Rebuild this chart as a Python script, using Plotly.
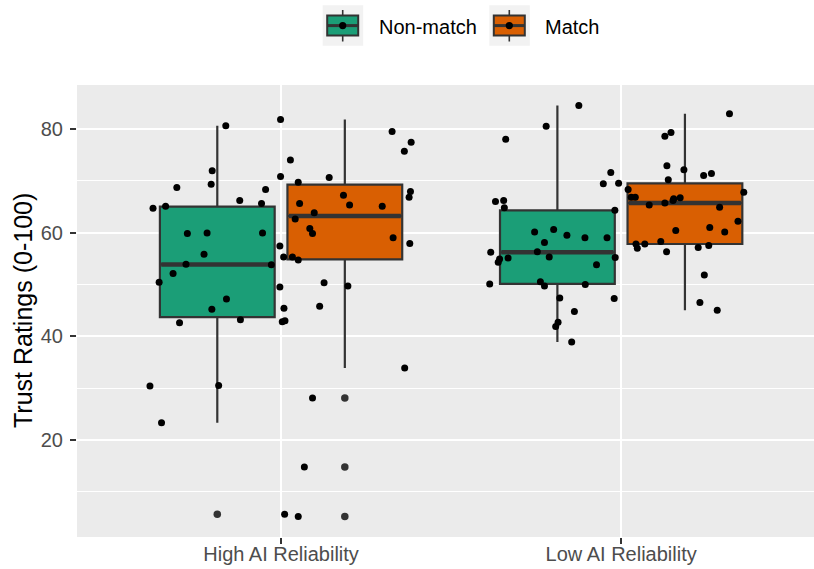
import numpy as np
import plotly.graph_objects as go

# ---- data -------------------------------------------------------------
categories = ["High AI Reliability", "Low AI Reliability"]
groups = ["Non-match", "Match"]
group_colors = {"Non-match": "#1B9E77", "Match": "#D95F02"}

# trust ratings (0-100) per participant, with the horizontal jitter used for display
high_nonmatch = [80.6, 71.9, 69.3, 68.7, 68.3, 66.2, 65.6, 64.7, 65.1, 59.8,
                 59.9, 59.9, 55.8, 53.9, 53.8, 52.1, 50.4, 47.2, 45.2, 43.2,
                 42.6, 30.4, 30.5, 23.3, 5.7, 57.4, 49.5, 45.4, 42.8, 43.0]
high_nonmatch_jit = [0.025, -0.015, -0.018, -0.119, 0.142, 0.066, 0.130, -0.189, -0.152, -0.088,
                     -0.030, 0.133, -0.039, -0.092, 0.159, -0.130, -0.171, 0.027, -0.016, 0.068,
                     -0.111, -0.198, 0.004, -0.164, 0.198, 0.184, 0.184, 0.196, 0.191, 0.199]

high_match = [81.8, 79.5, 77.4, 75.7, 74.0, 70.8, 70.6, 69.7, 67.9, 66.8,
              67.2, 65.3, 65.1, 65.6, 63.8, 62.6, 60.8, 59.8, 59.0, 57.9,
              55.3, 55.3, 54.7, 50.3, 49.7, 45.8, 33.9, 28.1, 14.8, 5.25]
high_match_jit = [-0.189, 0.139, 0.195, 0.175, -0.160, -0.189, -0.046, -0.137, 0.193, 0.189,
                  -0.004, 0.014, 0.110, -0.133, -0.090, -0.146, -0.103, -0.095, 0.142, 0.191,
                  -0.180, -0.154, -0.137, -0.061, 0.009, -0.074, 0.176, -0.095, -0.119, -0.137]

low_nonmatch = [84.5, 80.5, 78.0, 71.6, 69.4, 66.0, 66.2, 64.8, 64.3, 60.1,
                60.6, 59.5, 59.0, 59.0, 58.1, 56.2, 56.3, 55.1, 54.9, 54.3,
                55.3, 55.2, 53.8, 50.1, 50.5, 49.7, 50.0, 47.4, 47.3, 44.8,
                42.7, 41.9, 38.9]
low_nonmatch_jit = [0.063, -0.033, -0.152, 0.157, 0.135, -0.182, -0.158, -0.156, 0.169, -0.067,
                    -0.011, 0.028, 0.081, 0.146, -0.038, -0.196, -0.059, -0.145, -0.170, -0.174,
                    -0.024, 0.170, 0.115, -0.199, -0.050, -0.038, 0.082, 0.007, 0.167, 0.050,
                    0.002, -0.005, 0.042]

low_match = [82.9, 79.3, 78.6, 72.9, 72.1, 71.4, 71.0, 70.2, 69.5, 68.3,
             67.8, 66.8, 66.8, 66.2, 66.5, 66.7, 65.7, 65.3, 64.9, 62.2,
             61.0, 60.1, 60.4, 58.3, 57.8, 57.0, 57.8, 56.3, 57.1, 57.5,
             51.8, 46.5, 45.0]
low_match_jit = [0.131, -0.041, -0.059, -0.053, -0.003, 0.078, 0.055, -0.049, -0.195, -0.167,
                 0.173, -0.158, -0.146, -0.035, -0.033, -0.014, -0.059, -0.105, 0.102, 0.156,
                 0.073, 0.117, -0.027, -0.071, -0.144, -0.140, -0.118, -0.054, 0.039, 0.070,
                 0.057, 0.044, 0.095]

series = [
    (0, "Non-match", high_nonmatch, high_nonmatch_jit),
    (0, "Match", high_match, high_match_jit),
    (1, "Non-match", low_nonmatch, low_nonmatch_jit),
    (1, "Match", low_match, low_match_jit),
]

# ---- layout constants -------------------------------------------------
W, H = 814, 569
ML, MR, MT, MB = 77, 0, 85, 32
DODGE = 0.1875           # half of the dodge width (0.75 / 4)
BOX_W = 0.3375           # box width after dodge padding
FONT = "Liberation Sans, Arial, sans-serif"
LINE = "#333333"

fig = go.Figure()

boxes, medians, outliers, jitter = [], [], [], []
for cat_idx, grp, vals, jit in series:
    v = np.asarray(vals, dtype=float)
    pos = cat_idx + 1 + (-DODGE if grp == "Non-match" else DODGE)
    q1, med, q3 = np.percentile(v, [25, 50, 75])
    iqr = q3 - q1
    inside = v[(v >= q1 - 1.5 * iqr) & (v <= q3 + 1.5 * iqr)]
    outs = v[(v < q1 - 1.5 * iqr) | (v > q3 + 1.5 * iqr)]
    boxes.append(go.Box(
        x=[pos], q1=[q1], median=[med], q3=[q3],
        lowerfence=[inside.min()], upperfence=[inside.max()],
        width=BOX_W, fillcolor=group_colors[grp],
        line=dict(color=LINE, width=2.2), whiskerwidth=0,
        boxpoints=False, showlegend=False, hoverinfo="skip",
    ))
    medians.append(go.Scatter(
        x=[pos - BOX_W / 2 + 0.004, pos + BOX_W / 2 - 0.004], y=[med, med],
        mode="lines", line=dict(color=LINE, width=4.6),
        showlegend=False, hoverinfo="skip",
    ))
    if len(outs):
        outliers.append(go.Scatter(
            x=[pos] * len(outs), y=outs, mode="markers",
            marker=dict(color="#333333", size=7.5),
            showlegend=False, hoverinfo="skip",
        ))
    jitter.append(go.Scatter(
        x=pos + np.asarray(jit), y=v, mode="markers",
        marker=dict(color="black", size=7),
        showlegend=False, hoverinfo="skip",
    ))

for tr in boxes + medians + outliers + jitter:
    fig.add_trace(tr)

# ---- legend (ggplot-style keys) ----------------------------------------
pw, ph = W - ML - MR, H - MT - MB


def px(xp):
    return (xp - ML) / pw


def py(yp):
    return (H - MB - yp) / ph


shapes, annotations = [], []
legend_items = [("Non-match", 322.7, 377.0), ("Match", 489.3, 543.0)]
for grp, kx, tx in legend_items:
    cx = kx + 20
    shapes.append(dict(type="rect", xref="paper", yref="paper",
                       x0=px(kx), x1=px(kx + 40.5), y0=py(45.7), y1=py(5.2),
                       fillcolor="#F2F2F2", line=dict(width=0), layer="above"))
    shapes.append(dict(type="line", xref="paper", yref="paper",
                       x0=px(cx), x1=px(cx), y0=py(41.5), y1=py(10),
                       line=dict(color=LINE, width=1.6), layer="above"))
    shapes.append(dict(type="rect", xref="paper", yref="paper",
                       x0=px(cx - 15.5), x1=px(cx + 15.5), y0=py(35.5), y1=py(15.5),
                       fillcolor=group_colors[grp], line=dict(color=LINE, width=2),
                       layer="above"))
    shapes.append(dict(type="line", xref="paper", yref="paper",
                       x0=px(cx - 15.5), x1=px(cx + 15.5), y0=py(25.6), y1=py(25.6),
                       line=dict(color=LINE, width=3), layer="above"))
    shapes.append(dict(type="circle", xref="paper", yref="paper",
                       x0=px(cx - 3.6), x1=px(cx + 3.6), y0=py(29.2), y1=py(22.0),
                       fillcolor="black", line=dict(width=0), layer="above"))
    annotations.append(dict(text=grp, xref="paper", yref="paper",
                            x=px(tx), y=py(26.5), xanchor="left", yanchor="middle",
                            showarrow=False, font=dict(family=FONT, size=20, color="black")))

annotations.append(dict(text="Trust Ratings (0-100)", xref="paper", yref="paper",
                        x=px(23), y=0.5, xanchor="center", yanchor="middle",
                        textangle=-90, showarrow=False,
                        font=dict(family=FONT, size=25, color="black")))

fig.update_layout(
    width=W, height=H,
    margin=dict(l=ML, r=MR, t=MT, b=MB, pad=0),
    paper_bgcolor="white", plot_bgcolor="#EBEBEB",
    boxmode="overlay",
    showlegend=False,
    shapes=shapes, annotations=annotations,
    font=dict(family=FONT),
)

fig.update_xaxes(
    range=[0.4, 2.567], tickmode="array", tickvals=[1, 2], ticktext=categories,
    showgrid=True, gridcolor="white", gridwidth=2.4, zeroline=False,
    ticks="outside", ticklen=6, tickwidth=1.6, tickcolor=LINE,
    ticklabelstandoff=-7,
    tickfont=dict(family=FONT, size=20, color="#4D4D4D"),
    showline=False, automargin=False,
)
fig.update_yaxes(
    range=[1.29, 88.46], tickmode="array", tickvals=[20, 40, 60, 80],
    showgrid=True, gridcolor="white", gridwidth=2.4, zeroline=False,
    ticks="outside", ticklen=6, tickwidth=1.6, tickcolor=LINE,
    ticklabelstandoff=3,
    tickfont=dict(family=FONT, size=20, color="#4D4D4D"),
    minor=dict(tickvals=[10, 30, 50, 70], showgrid=True, gridcolor="white",
               gridwidth=1.2, ticks=""),
    showline=False, automargin=False,
)

fig.write_html("out.html")
